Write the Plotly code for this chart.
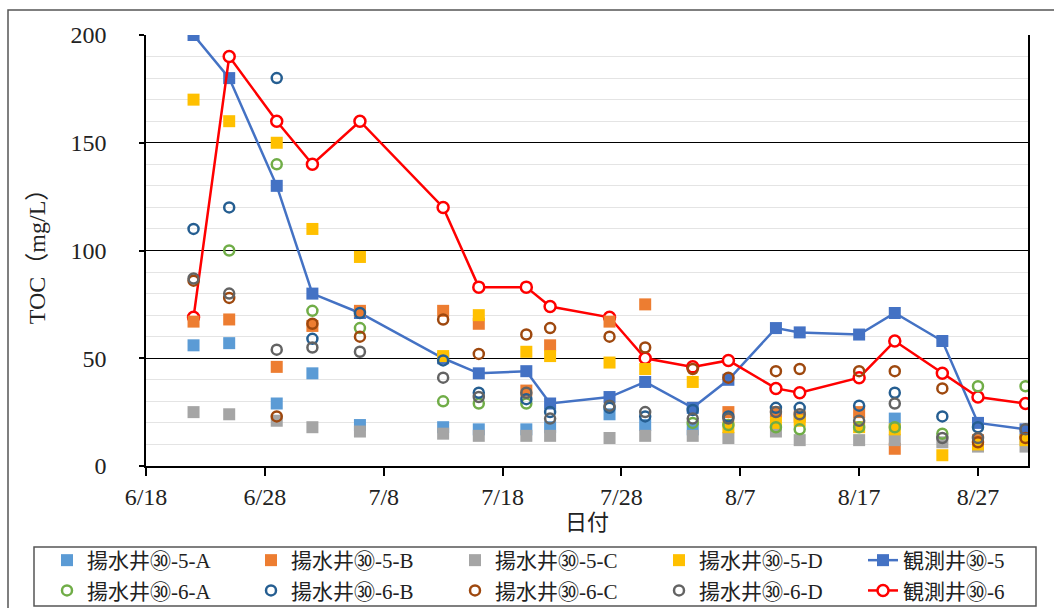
import plotly.graph_objects as go

# Sampling dates (2018)
dates = ["2018-06-22", "2018-06-25", "2018-06-29", "2018-07-02", "2018-07-06",
         "2018-07-13", "2018-07-16", "2018-07-20", "2018-07-22", "2018-07-27",
         "2018-07-30", "2018-08-03", "2018-08-06", "2018-08-10", "2018-08-12",
         "2018-08-17", "2018-08-20", "2018-08-24", "2018-08-27", "2018-08-31"]

# TOC (mg/L) for pumping wells ㉚-5 A..D
well5_a = [56, 57, 29, 43, 19, 18, 17, 17, 18, 24, 19, 17, None, None, None, None, 22, None, None, None]
well5_b = [67, 68, 46, 65, 72, 72, 66, 35, 56, 67, 75, None, 25, 25, 23, 25, 8, None, 12, None]
well5_c = [25, 24, 21, 18, 16, 15, 14, 14, 14, 13, 14, 14, 13, 16, 12, 12, 12, 11, 9, 9]
well5_d = [170, 160, 150, 110, 97, 51, 70, 53, 51, 48, 45, 39, 18, 20, 21, 18, 17, 5, 10, 12]

# TOC (mg/L) for pumping wells ㉚-6 A..D
well6_a = [None, 100, 140, 72, 64, 30, 29, 29, None, None, None, 20, 19, 18, 17, 18, 18, 15, 37, 37]
well6_b = [110, 120, 180, 59, 71, 49, 34, 31, 25, 27, 23, 26, 23, 27, 27, 28, 34, 23, 18, None]
well6_c = [86, 78, 23, 66, 60, 68, 52, 61, 64, 60, 55, 45, 41, 44, 45, 44, 44, 36, 11, 13]
well6_d = [87, 80, 54, 55, 53, 41, 32, 34, 22, 28, 25, 22, 22, 25, 24, 21, 29, 13, 13, 17]

# Observation wells
obs5 = [200, 180, 130, 80, 71, 50, 43, 44, 29, 32, 39, 27, 40, 64, 62, 61, 71, 58, 20, 17]
obs6 = [69, 190, 160, 140, 160, 120, 83, 83, 74, 69, 50, 46, 49, 36, 34, 41, 58, 43, 32, 29]

x_ticks_start = "2018-06-18"
x_range = ["2018-06-18", "2018-08-31 05:00"]

SERIF = "Liberation Serif, Noto Sans CJK JP, serif"
TEXT = "#222222"

# pixel layout of the plotting area
W, H = 1054, 608
L, R, T, B = 146, 26, 35, 142
PW, PH = W - L - R, H - T - B


def px_x(px):
    return (px - L) / PW


def px_y(py):
    return (H - B - py) / PH


fig = go.Figure()

# observation-well lines drawn first so the sample markers sit above them
fig.add_trace(go.Scatter(
    x=dates, y=obs5, name="観測井㉚-5", mode="lines+markers", legendrank=5,
    line=dict(color="#4472C4", width=2.5),
    marker=dict(symbol="square", size=12, color="#4472C4")))
fig.add_trace(go.Scatter(
    x=dates, y=obs6, name="観測井㉚-6", mode="lines+markers", legendrank=10,
    line=dict(color="#FF0000", width=2.5),
    marker=dict(symbol="circle", size=11, color="white",
                line=dict(color="#FF0000", width=2.5))))

square_series = [
    ("揚水井㉚-5-A", well5_a, "#5B9BD5", 1),
    ("揚水井㉚-5-B", well5_b, "#ED7D31", 2),
    ("揚水井㉚-5-C", well5_c, "#A5A5A5", 3),
    ("揚水井㉚-5-D", well5_d, "#FFC000", 4),
]
circle_series = [
    ("揚水井㉚-6-A", well6_a, "#70AD47", 6),
    ("揚水井㉚-6-B", well6_b, "#255E91", 7),
    ("揚水井㉚-6-C", well6_c, "#9E480E", 8),
    ("揚水井㉚-6-D", well6_d, "#636363", 9),
]

for name, vals, color, rank in square_series:
    fig.add_trace(go.Scatter(
        x=dates, y=vals, name=name, mode="markers", legendrank=rank,
        marker=dict(symbol="square", size=12, color=color)))

for name, vals, color, rank in circle_series:
    fig.add_trace(go.Scatter(
        x=dates, y=vals, name=name, mode="markers", legendrank=rank,
        marker=dict(symbol="circle-open", size=10, color=color,
                    line=dict(color=color, width=2.5))))

fig.update_layout(
    width=W, height=H,
    margin=dict(l=L, r=R, t=T, b=B, pad=0, autoexpand=False),
    paper_bgcolor="white", plot_bgcolor="white",
    font=dict(family=SERIF, size=22, color=TEXT),
    showlegend=True,
    legend=dict(
        orientation="h", xanchor="left", yanchor="top",
        x=px_x(47), y=px_y(540),
        entrywidth=159, entrywidthmode="pixels",
        font=dict(family=SERIF, size=21, color=TEXT),
        bgcolor="rgba(0,0,0,0)", borderwidth=0,
        itemclick=False, itemdoubleclick=False,
    ),
    shapes=[
        # outer chart frame
        dict(type="rect", xref="paper", yref="paper",
             x0=px_x(8), x1=px_x(1070), y0=px_y(640), y1=px_y(10),
             line=dict(color="#555555", width=1.5), fillcolor="rgba(0,0,0,0)", layer="below"),
        # legend frame
        dict(type="rect", xref="paper", yref="paper",
             x0=px_x(34), x1=px_x(1036), y0=px_y(606), y1=px_y(547),
             line=dict(color="#555555", width=1.5), fillcolor="rgba(0,0,0,0)"),
    ],
)

fig.update_xaxes(
    type="date", range=x_range,
    tick0=x_ticks_start, dtick=10 * 86400000, tickformat="%-m/%-d",
    ticks="outside", ticklen=8, tickcolor="black", tickwidth=1.5,
    showline=True, linecolor="black", linewidth=1.5,
    showgrid=False, zeroline=False,
    tickfont=dict(family=SERIF, size=24, color=TEXT),
    title=dict(text="日付", font=dict(family=SERIF, size=22, color=TEXT), standoff=4),
)

fig.update_yaxes(
    range=[0, 200], dtick=50, tick0=0,
    ticks="outside", ticklen=5, tickcolor="black", tickwidth=1.5,
    showline=True, linecolor="black", linewidth=1.5, mirror=True,
    showgrid=True, gridcolor="black", gridwidth=1,
    minor=dict(dtick=10, showgrid=True, gridcolor="#E4E4E4", gridwidth=1),
    zeroline=False,
    ticklabelstandoff=28,
    tickfont=dict(family=SERIF, size=24, color=TEXT),
    title=dict(text="TOC（mg/L）", font=dict(family=SERIF, size=24, color=TEXT), standoff=18),
)

fig.write_html("out.html")
